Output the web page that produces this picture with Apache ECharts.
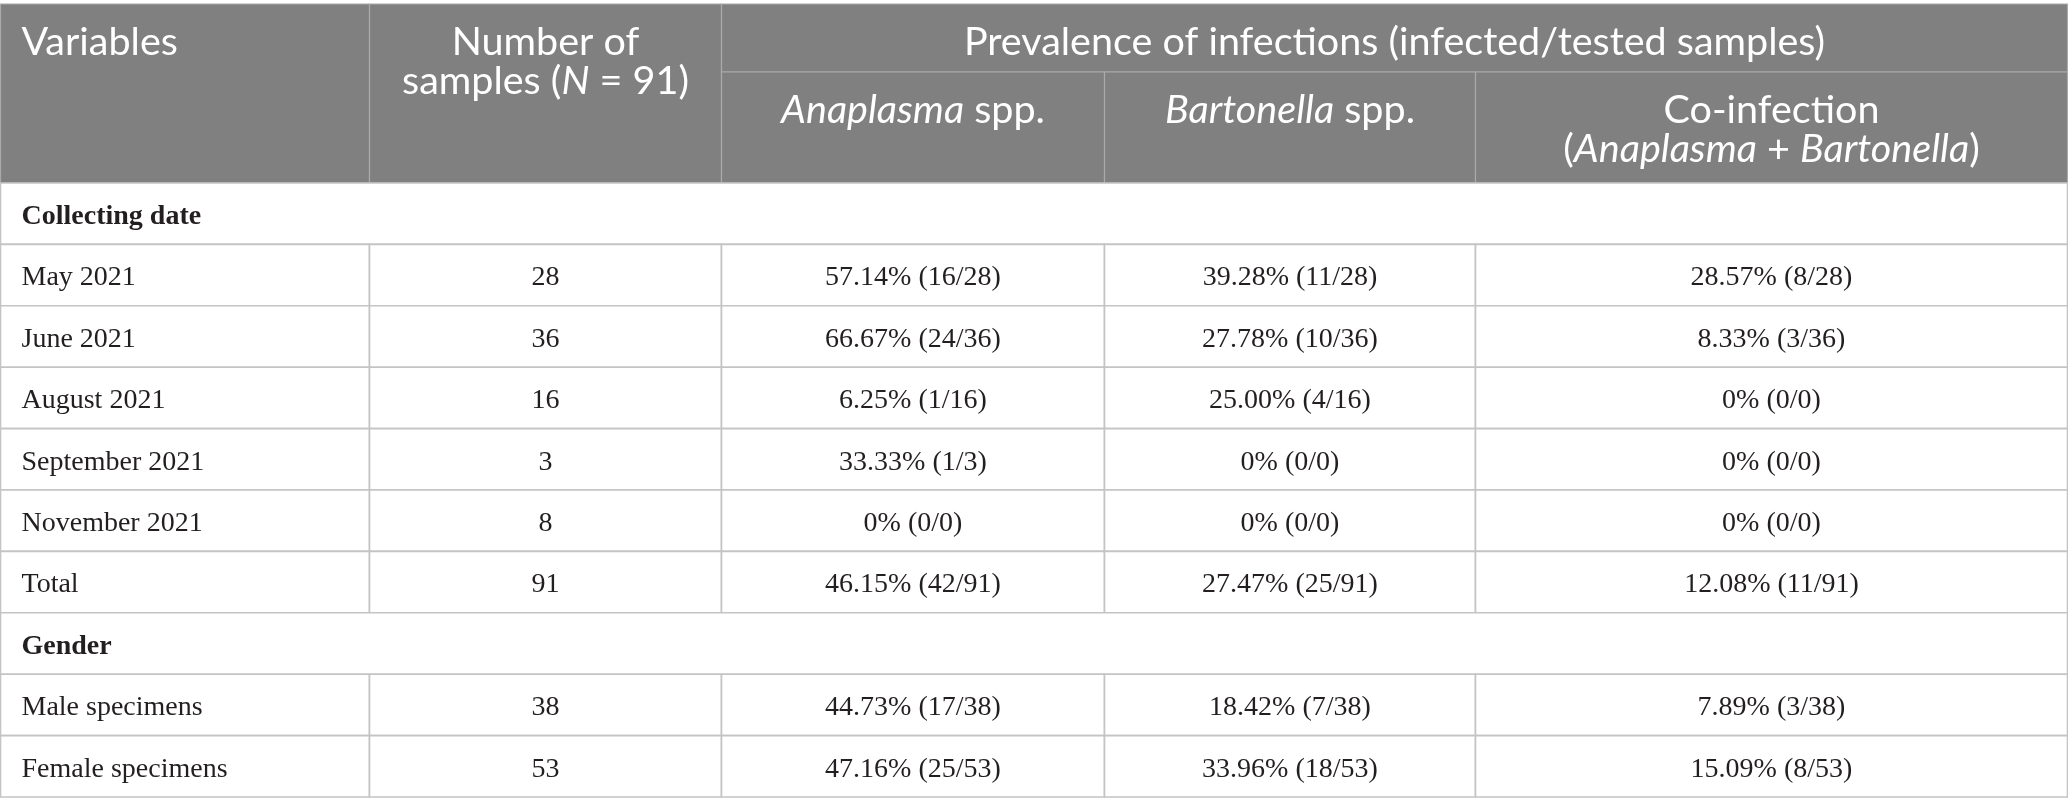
<!DOCTYPE html>
<html><head><meta charset="utf-8">
<script src="https://cdn.jsdelivr.net/npm/echarts@6/dist/echarts.min.js"></script>
<style>html,body{margin:0;padding:0;background:#fff}#c{width:2068px;height:812px}</style>
</head><body><div id="c"></div>
<script>
// ---------------- data ----------------
const topHeader = 'Prevalence of infections (infected/tested samples)';
const sectionNames = ['Collecting date', 'Gender'];

const dateLabels  = ['May 2021', 'June 2021', 'August 2021', 'September 2021', 'November 2021', 'Total'];
const dateSamples = [28, 36, 16, 3, 8, 91];
const dateAnaPct  = [57.14, 66.67, 6.25, 33.33, 0, 46.15];
const dateAnaInf  = [16, 24, 1, 1, 0, 42];
const dateAnaTest = [28, 36, 16, 3, 0, 91];
const dateBarPct  = [39.28, 27.78, 25.00, 0, 0, 27.47];
const dateBarInf  = [11, 10, 4, 0, 0, 25];
const dateBarTest = [28, 36, 16, 0, 0, 91];
const dateCoPct   = [28.57, 8.33, 0, 0, 0, 12.08];
const dateCoInf   = [8, 3, 0, 0, 0, 11];
const dateCoTest  = [28, 36, 0, 0, 0, 91];

const genderLabels  = ['Male specimens', 'Female specimens'];
const genderSamples = [38, 53];
const genderAnaPct  = [44.73, 47.16];
const genderAnaInf  = [17, 25];
const genderAnaTest = [38, 53];
const genderBarPct  = [18.42, 33.96];
const genderBarInf  = [7, 18];
const genderBarTest = [38, 53];
const genderCoPct   = [7.89, 15.09];
const genderCoInf   = [3, 8];
const genderCoTest  = [38, 53];

// ---------------- layout ----------------
const COL_W = [369, 352, 383, 371, 592];
const HEAD_H = [68, 111];
const BODY_ROW_H = 61.4;
const BODY_ROWS = 2 + dateLabels.length + genderLabels.length;

const xEdges = [0];
COL_W.forEach(w => xEdges.push(xEdges[xEdges.length - 1] + w));
const yEdges = [0];
HEAD_H.forEach(h => yEdges.push(yEdges[yEdges.length - 1] + h));
for (let i = 0; i < BODY_ROWS; i++) yEdges.push(yEdges[yEdges.length - 1] + BODY_ROW_H);
const X_MAX = xEdges[xEdges.length - 1];
const Y_MAX = yEdges[yEdges.length - 1];

const SANS = 'Lato';
const SERIF = 'Liberation Serif';
const HEAD_FS = 39.5;
const HEAD_LH = 39;
const BODY_FS = 28;
const HEAD_BG = '#7f807f';
const HEAD_LINE = '#a9aaa9';
const BODY_LINE = '#c4c4c4';
const BODY_TXT = '#231f20';

const richHead = {
  n: { fontFamily: SANS, fontSize: HEAD_FS, fill: '#ffffff', lineHeight: HEAD_LH },
  i: { fontFamily: SANS, fontSize: HEAD_FS, fill: '#ffffff', lineHeight: HEAD_LH, fontStyle: 'italic' }
};

function fmt(p, inf, t) {
  return (p === 0 ? '0%' : p.toFixed(2) + '%') + ' (' + inf + '/' + t + ')';
}

// ---------------- cells ----------------
const cells = [];
cells.push({ c0: 0, c1: 1, r0: 0, r1: 2, kind: 'head', align: 'left', text: '{n|Variables}' });
cells.push({ c0: 1, c1: 2, r0: 0, r1: 2, kind: 'head', align: 'center', text: '{n|Number of}\n{n|samples (}{i|N}{n| = 91)}' });
cells.push({ c0: 2, c1: 5, r0: 0, r1: 1, kind: 'head', align: 'center', text: '{n|' + topHeader + '}' });
cells.push({ c0: 2, c1: 3, r0: 1, r1: 2, kind: 'head', align: 'center', text: '{i|Anaplasma}{n| spp.}' });
cells.push({ c0: 3, c1: 4, r0: 1, r1: 2, kind: 'head', align: 'center', text: '{i|Bartonella}{n| spp.}' });
cells.push({ c0: 4, c1: 5, r0: 1, r1: 2, kind: 'head', align: 'center', text: '{n|Co-infection}\n{n|(}{i|Anaplasma}{n| + }{i|Bartonella}{n|)}' });

let r = 2;
function addSection(name) {
  cells.push({ c0: 0, c1: 5, r0: r, r1: r + 1, kind: 'section', align: 'left', text: name });
  r++;
}
function addRow(label, n, a, b, c) {
  const vals = [label, String(n), a, b, c];
  vals.forEach((v, ci) => {
    cells.push({ c0: ci, c1: ci + 1, r0: r, r1: r + 1, kind: 'body', align: ci === 0 ? 'left' : 'center', text: v });
  });
  r++;
}
addSection(sectionNames[0]);
dateLabels.forEach((lab, i) => addRow(lab, dateSamples[i],
  fmt(dateAnaPct[i], dateAnaInf[i], dateAnaTest[i]),
  fmt(dateBarPct[i], dateBarInf[i], dateBarTest[i]),
  fmt(dateCoPct[i], dateCoInf[i], dateCoTest[i])));
addSection(sectionNames[1]);
genderLabels.forEach((lab, i) => addRow(lab, genderSamples[i],
  fmt(genderAnaPct[i], genderAnaInf[i], genderAnaTest[i]),
  fmt(genderBarPct[i], genderBarInf[i], genderBarTest[i]),
  fmt(genderCoPct[i], genderCoInf[i], genderCoTest[i])));

// ---------------- render ----------------
function renderItem(params, api) {
  const cell = cells[api.value(4)];
  const p0 = api.coord([xEdges[api.value(0)], yEdges[api.value(2)]]);
  const p1 = api.coord([xEdges[api.value(1)], yEdges[api.value(3)]]);
  const x0 = Math.min(p0[0], p1[0]), x1 = Math.max(p0[0], p1[0]);
  const y0 = Math.min(p0[1], p1[1]), y1 = Math.max(p0[1], p1[1]);
  const isHead = cell.kind === 'head';
  const children = [{
    type: 'rect',
    shape: { x: x0, y: y0, width: x1 - x0, height: y1 - y0 },
    style: { fill: isHead ? HEAD_BG : '#ffffff', stroke: isHead ? HEAD_LINE : BODY_LINE, lineWidth: isHead ? 1.2 : 1.6 }
  }];
  const tx = cell.align === 'left' ? x0 + 21 : (x0 + x1) / 2;
  if (isHead) {
    children.push({
      type: 'text', x: tx, y: y0 + 19,
      style: { text: cell.text, rich: richHead, align: cell.align, verticalAlign: 'top',
        fontFamily: SANS, fontSize: HEAD_FS, fill: '#ffffff', lineHeight: HEAD_LH }
    });
  } else {
    children.push({
      type: 'text', x: tx, y: (y0 + y1) / 2 + 3,
      style: { text: cell.text, align: cell.align, verticalAlign: 'middle',
        fontFamily: SERIF, fontSize: BODY_FS, fontWeight: cell.kind === 'section' ? 'bold' : 'normal',
        fill: BODY_TXT }
    });
  }
  return { type: 'group', children: children };
}

const chart = echarts.init(document.getElementById('c'), null, { renderer: 'canvas' });
chart.setOption({
  animation: false,
  backgroundColor: '#ffffff',
  grid: { left: 0.5, top: 4, width: X_MAX, height: Y_MAX, containLabel: false },
  xAxis: { type: 'value', min: 0, max: X_MAX, show: false },
  yAxis: { type: 'value', min: 0, max: Y_MAX, inverse: true, show: false },
  series: [{
    type: 'custom',
    clip: false,
    silent: true,
    renderItem: renderItem,
    encode: { x: [0, 1], y: [2, 3] },
    data: cells.map((c, i) => [c.c0, c.c1, c.r0, c.r1, i])
  }]
});
</script></body></html>
